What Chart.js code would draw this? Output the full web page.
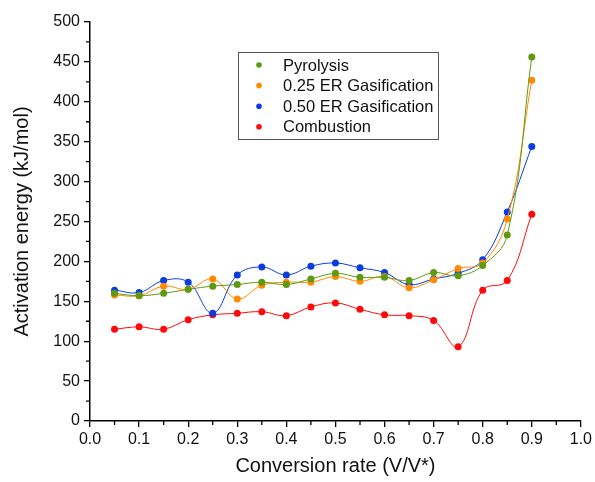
<!DOCTYPE html>
<html lang="en">
<head>
    <meta charset="UTF-8">
    <title>Activation energy vs conversion rate</title>
    <script src="https://cdn.jsdelivr.net/npm/chart.js"></script>
    <style>
        html, body { margin: 0; padding: 0; background: #fff; }
        #wrap { width: 595px; height: 482px; position: relative; }
    </style>
</head>
<body>
    <div id="wrap">
        <canvas id="eaChart"></canvas>
    </div>

    <script>
        // conversion rate (V/V*)
        const conversion = [0.05, 0.10, 0.15, 0.20, 0.25, 0.30, 0.35, 0.40, 0.45, 0.50, 0.55, 0.60, 0.65, 0.70, 0.75, 0.80, 0.85, 0.90];

        // activation energy (kJ/mol)
        const pyrolysis     = [160, 157, 160, 165, 169, 171, 174, 171, 178, 185, 180, 180, 176, 186, 182, 195, 233, 456];
        const gasif025      = [158, 157, 169, 165, 178, 153, 170, 174, 174, 181, 175, 181, 167, 177, 191, 198, 253, 427];
        const gasif050      = [164, 161, 176, 174, 135, 183, 193, 183, 194, 198, 192, 186, 171, 178, 185, 202, 262, 344];
        const combustion    = [115, 118, 115, 127, 133, 135, 137, 132, 143, 148, 140, 133, 132, 126, 93, 164, 176, 259];

        const seriesNames = ['Pyrolysis', '0.25 ER Gasification', '0.50 ER Gasification', 'Combustion'];
        const seriesColors = ['#5e9a10', '#ff8a00', '#0a3ce0', '#ff0a0a'];

        const FONT = '"Liberation Sans", Arial, sans-serif';

        function toPoints(vals) {
            return vals.map((v, i) => ({ x: conversion[i], y: v }));
        }

        // small outward minor ticks halfway between the labelled ones
        const minorTicks = {
            id: 'minorTicks',
            afterDraw(chart) {
                const ctx = chart.ctx;
                const xs = chart.scales.x, ys = chart.scales.y;
                const area = chart.chartArea;
                ctx.save();
                ctx.strokeStyle = '#000';
                ctx.lineWidth = 1.3;
                ctx.beginPath();
                for (let i = 0; i < xs.ticks.length - 1; i++) {
                    const px = xs.getPixelForValue((xs.ticks[i].value + xs.ticks[i + 1].value) / 2);
                    ctx.moveTo(px, area.bottom);
                    ctx.lineTo(px, area.bottom + 4);
                }
                for (let i = 0; i < ys.ticks.length - 1; i++) {
                    const py = ys.getPixelForValue((ys.ticks[i].value + ys.ticks[i + 1].value) / 2);
                    ctx.moveTo(area.left, py);
                    ctx.lineTo(area.left - 4, py);
                }
                ctx.stroke();
                ctx.restore();
            }
        };

        // boxed legend sitting inside the plot
        const boxLegend = {
            id: 'boxLegend',
            afterDraw(chart) {
                const ctx = chart.ctx;
                const left = 238, top = 52, w = 200, h = 87;
                ctx.save();
                ctx.strokeStyle = '#555';
                ctx.lineWidth = 1;
                ctx.strokeRect(left + 0.5, top + 0.5, w, h);
                ctx.font = '16.5px ' + FONT;
                ctx.textBaseline = 'middle';
                chart.data.datasets.forEach((ds, i) => {
                    const y = top + 13 + i * 20.6;
                    ctx.fillStyle = ds.borderColor;
                    ctx.beginPath();
                    ctx.arc(left + 21, y, 2.8, 0, Math.PI * 2);
                    ctx.fill();
                    ctx.fillStyle = '#111';
                    ctx.fillText(ds.label, left + 45, y + 1);
                });
                ctx.restore();
            }
        };

        const datasets = [pyrolysis, gasif025, gasif050, combustion].map((vals, i) => ({
            label: seriesNames[i],
            data: toPoints(vals),
            borderColor: seriesColors[i],
            backgroundColor: seriesColors[i],
            borderWidth: 1,
            pointRadius: 3.5,
            pointBorderWidth: 0,
            tension: 0.4,
            fill: false
        }));

        new Chart(document.getElementById('eaChart'), {
            type: 'line',
            data: { datasets },
            options: {
                responsive: true,
                maintainAspectRatio: false,
                animation: false,
                layout: { padding: { top: 22, right: 14, left: 6, bottom: 0 } },
                plugins: {
                    legend: { display: false },
                    tooltip: { enabled: false }
                },
                scales: {
                    x: {
                        type: 'linear',
                        min: 0,
                        max: 1,
                        afterFit(s) { s.height = 61; },
                        ticks: {
                            stepSize: 0.1,
                            color: '#111',
                            font: { family: FONT, size: 16 },
                            padding: 3,
                            maxRotation: 0,
                            callback: v => v.toFixed(1)
                        },
                        grid: { drawOnChartArea: false, drawTicks: true, tickLength: 6, color: '#000', lineWidth: 1.3 },
                        border: { color: '#000', width: 1.5 },
                        title: {
                            display: true,
                            text: 'Conversion rate (V/V*)',
                            color: '#111',
                            font: { family: FONT, size: 20 },
                            padding: { top: 6 }
                        }
                    },
                    y: {
                        min: 0,
                        max: 500,
                        afterFit(s) { s.width = 84; },
                        ticks: {
                            stepSize: 50,
                            color: '#111',
                            font: { family: FONT, size: 16 },
                            padding: 4
                        },
                        grid: { drawOnChartArea: false, drawTicks: true, tickLength: 6, color: '#000', lineWidth: 1.3 },
                        border: { color: '#000', width: 1.5 },
                        title: {
                            display: true,
                            text: 'Activation energy (kJ/mol)',
                            color: '#111',
                            font: { family: FONT, size: 20 },
                            padding: { bottom: 2 }
                        }
                    }
                }
            },
            plugins: [minorTicks, boxLegend]
        });
    </script>
</body>
</html>
